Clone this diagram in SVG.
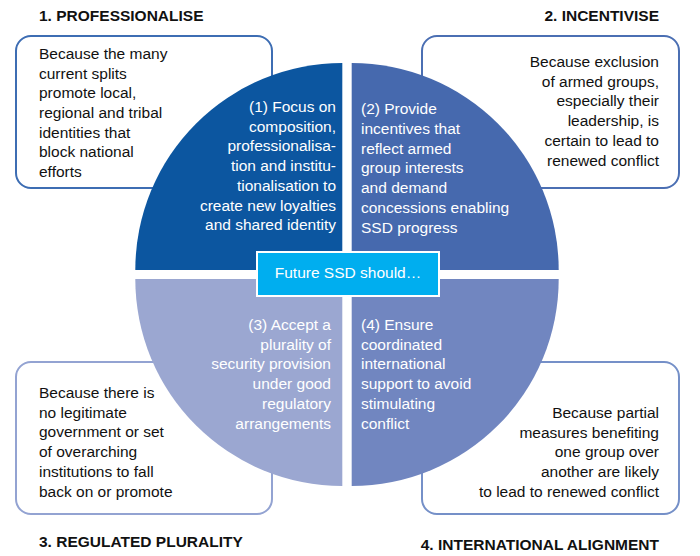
<svg xmlns="http://www.w3.org/2000/svg" width="700" height="556" viewBox="0 0 700 556">
<style>
.h{font-family:"Liberation Sans",Arial,sans-serif;font-weight:bold;font-size:15.5px;fill:#111}
.t{font-family:"Liberation Sans",Arial,sans-serif;font-size:15.5px;fill:#111}
.w{font-family:"Liberation Sans",Arial,sans-serif;font-size:15.5px;fill:#fff}
.r{text-anchor:end}
.box{fill:#fff;stroke-width:2}
</style>
<rect width="700" height="556" fill="#fff"/>
<g id="box1">
<rect class="box" x="16" y="36" width="256" height="152" rx="15" stroke="#3d6db3"/>
</g>
<g id="box2">
<rect class="box" x="422" y="36" width="257" height="152" rx="15" stroke="#4b6fb3"/>
</g>
<g id="box3">
<rect class="box" x="16" y="362" width="256" height="152" rx="15" stroke="#93a3d2"/>
</g>
<g id="box4">
<rect class="box" x="422" y="362" width="257" height="152" rx="15" stroke="#7590c8"/>
</g>
<g id="q1">
<path d="M342.3 270 L135.3 270 A207 207 0 0 1 342.3 63 Z" fill="#0c56a0"/>
<text class="w r"><tspan x="336" y="111.7">(1) Focus on</tspan><tspan x="336" y="131.5">composition,</tspan><tspan x="336" y="151.3">professionalisa-</tspan><tspan x="336" y="171">tion and institu-</tspan><tspan x="336" y="190.8">tionalisation to</tspan><tspan x="336" y="210.6">create new loyalties</tspan><tspan x="336" y="230.4">and shared identity</tspan></text>
</g>
<g id="q2">
<path d="M351.7 270 L351.7 63 A207 207 0 0 1 558.7 270 Z" fill="#4669ae"/>
<text class="w"><tspan x="361" y="114.3">(2) Provide</tspan><tspan x="361" y="134">incentives that</tspan><tspan x="361" y="153.7">reflect armed</tspan><tspan x="361" y="173.4">group interests</tspan><tspan x="361" y="193.1">and demand</tspan><tspan x="361" y="212.8">concessions enabling</tspan><tspan x="361" y="232.5">SSD progress</tspan></text>
</g>
<g id="q3">
<path d="M342.3 279 L342.3 486 A207 207 0 0 1 135.3 279 Z" fill="#9ba7d1"/>
<text class="w r"><tspan x="331" y="330">(3) Accept a</tspan><tspan x="331" y="349.7">plurality of</tspan><tspan x="331" y="369.4">security provision</tspan><tspan x="331" y="389.1">under good</tspan><tspan x="331" y="408.8">regulatory</tspan><tspan x="331" y="428.5">arrangements</tspan></text>
</g>
<g id="q4">
<path d="M351.7 279 L558.7 279 A207 207 0 0 1 351.7 486 Z" fill="#7186c0"/>
<text class="w"><tspan x="361" y="330">(4) Ensure</tspan><tspan x="361" y="349.7">coordinated</tspan><tspan x="361" y="369.4">international</tspan><tspan x="361" y="389.1">support to avoid</tspan><tspan x="361" y="408.8">stimulating</tspan><tspan x="361" y="428.5">conflict</tspan></text>
</g>
<g id="center">
<rect x="257" y="252" width="182" height="44" fill="#00aeef" stroke="#fff" stroke-width="2"/>
<text class="w" x="348" y="278" text-anchor="middle">Future SSD should…</text>
</g>
<g id="text1">
<text class="h" x="39" y="21">1. PROFESSIONALISE</text>
<text class="t"><tspan x="39" y="59.3">Because the many</tspan><tspan x="39" y="78.9">current splits</tspan><tspan x="39" y="98.4">promote local,</tspan><tspan x="39" y="118">regional and tribal</tspan><tspan x="39" y="137.6">identities that</tspan><tspan x="39" y="157.1">block national</tspan><tspan x="39" y="176.7">efforts</tspan></text>
</g>
<g id="text2">
<text class="h r" x="659" y="21">2. INCENTIVISE</text>
<text class="t r"><tspan x="659" y="66.7">Because exclusion</tspan><tspan x="659" y="86.5">of armed groups,</tspan><tspan x="659" y="106.3">especially their</tspan><tspan x="659" y="126.1">leadership, is</tspan><tspan x="659" y="145.9">certain to lead to</tspan><tspan x="659" y="165.7">renewed conflict</tspan></text>
</g>
<g id="text3">
<text class="h" x="39" y="547">3. REGULATED PLURALITY</text>
<text class="t"><tspan x="39" y="397.7">Because there is</tspan><tspan x="39" y="417.5">no legitimate</tspan><tspan x="39" y="437.3">government or set</tspan><tspan x="39" y="457.1">of overarching</tspan><tspan x="39" y="476.9">institutions to fall</tspan><tspan x="39" y="496.7">back on or promote</tspan></text>
</g>
<g id="text4">
<text class="h r" x="659" y="550">4. INTERNATIONAL ALIGNMENT</text>
<text class="t r"><tspan x="659" y="417.7">Because partial</tspan><tspan x="659" y="437.5">measures benefiting</tspan><tspan x="659" y="457.2">one group over</tspan><tspan x="659" y="477">another are likely</tspan><tspan x="659" y="496.7">to lead to renewed conflict</tspan></text>
</g>
</svg>
